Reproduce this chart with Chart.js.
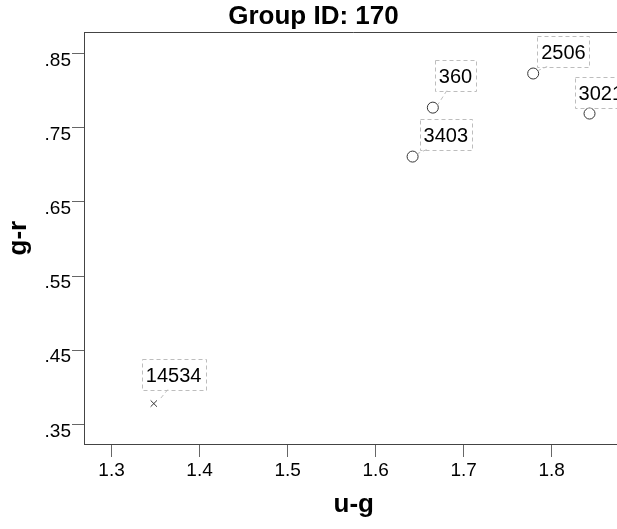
<!DOCTYPE html>
<html>
<head>
<meta charset="utf-8">
<script src="https://cdn.jsdelivr.net/npm/chart.js@4/dist/chart.umd.min.js"></script>
<style>
  html, body { margin: 0; padding: 0; overflow: hidden; background: #fff; }
  #wrap { width: 617px; height: 529px; overflow: hidden; }
</style>
</head>
<body>
<div id="wrap"><canvas id="scatterChart" width="630" height="529"></canvas></div>
<script>
// data
const ids = ['14534', '3403', '360', '2506', '3021'];
const ugValues = [1.348, 1.642, 1.665, 1.779, 1.843];
const grValues = [0.378, 0.711, 0.777, 0.823, 0.769];
const markerKind = ['x', 'o', 'o', 'o', 'o'];
const xTicks = [1.3, 1.4, 1.5, 1.6, 1.7, 1.8];
const yTicks = [0.35, 0.45, 0.55, 0.65, 0.75, 0.85];

// where each label box sits, relative to its point (box bottom-left)
const labelOffsets = [[-12, -14], [7, -7], [2, -17], [4, -7], [-15, -6]];

const FONT = "'Liberation Sans', Arial, sans-serif";

const pointLabels = {
    id: 'pointLabels',
    afterDatasetsDraw(chart) {
        const ctx = chart.ctx;
        const meta = chart.getDatasetMeta(0);
        ctx.save();
        ctx.font = '20px ' + FONT;
        meta.data.forEach((pt, i) => {
            const text = ids[i];
            const w = ctx.measureText(text).width + 8;
            const h = 31;
            const left = pt.x + labelOffsets[i][0];
            const bottom = pt.y + labelOffsets[i][1];
            const top = bottom - h;

            ctx.setLineDash([4, 3]);
            ctx.strokeStyle = '#bdbdbd';
            ctx.lineWidth = 1;
            ctx.strokeRect(Math.round(left) + 0.5, Math.round(top) + 0.5, Math.round(w), h);

            // little leader line down to the point
            const tx = Math.min(Math.max(pt.x + 14, left + 6), left + w - 6);
            if (pt.y - bottom > 6) {
                ctx.beginPath();
                ctx.moveTo(tx, bottom);
                ctx.lineTo(pt.x + 5, pt.y - 3);
                ctx.stroke();
            }
            ctx.setLineDash([]);

            ctx.fillStyle = '#000';
            ctx.textAlign = 'left';
            ctx.textBaseline = 'middle';
            ctx.fillText(text, left + 4, top + h / 2 + 2);
        });
        ctx.restore();
    }
};

const topBorder = {
    id: 'topBorder',
    afterDraw(chart) {
        const {ctx, chartArea} = chart;
        ctx.save();
        ctx.strokeStyle = '#444';
        ctx.lineWidth = 1;
        ctx.beginPath();
        ctx.moveTo(chartArea.left, Math.round(chartArea.top) + 0.5);
        ctx.lineTo(chartArea.right, Math.round(chartArea.top) + 0.5);
        ctx.stroke();
        ctx.restore();
    }
};

const scatterChart = document.getElementById('scatterChart');

new Chart(scatterChart, {
    type: 'scatter',
    data: {
        datasets: [
            {
                label: 'Group 170',
                data: ugValues.map((u, i) => ({ x: u, y: grValues[i] })),
                pointStyle: ctx => markerKind[ctx.dataIndex] === 'x' ? 'crossRot' : 'circle',
                pointRadius: ctx => markerKind[ctx.dataIndex] === 'x' ? 4.5 : 5.5,
                borderColor: '#333',
                backgroundColor: '#fff',
                borderWidth: 1
            }
        ]
    },
    plugins: [pointLabels, topBorder],
    options: {
        responsive: false,
        animation: false,
        devicePixelRatio: 1,
        layout: { padding: { top: 0, right: 3, bottom: 0, left: 0 } },
        plugins: {
            legend: { display: false },
            tooltip: { enabled: false },
            title: {
                display: true,
                text: 'Group ID: 170',
                color: '#000',
                font: { family: FONT, size: 26, weight: 'bold' },
                padding: { top: 1, bottom: 0 }
            }
        },
        scales: {
            x: {
                type: 'linear',
                min: 1.2687,
                max: 1.8816,
                afterBuildTicks: s => { s.ticks = xTicks.map(v => ({ value: v })); },
                afterFit: s => { s.height = 85; },
                ticks: {
                    color: '#000',
                    font: { family: FONT, size: 19 },
                    padding: 2,
                    maxRotation: 0,
                    callback: v => v.toFixed(1)
                },
                grid: { drawOnChartArea: false, drawTicks: true, tickLength: 13, color: '#666' },
                border: { display: true, color: '#444' },
                title: {
                    display: true,
                    text: 'u-g',
                    color: '#000',
                    font: { family: FONT, size: 26, weight: 'bold' },
                    padding: { top: 0, bottom: 9 }
                }
            },
            y: {
                type: 'linear',
                min: 0.3235,
                max: 0.8787,
                afterBuildTicks: s => { s.ticks = yTicks.map(v => ({ value: v })); },
                afterFit: s => { s.width = 84; },
                ticks: {
                    color: '#000',
                    font: { family: FONT, size: 19 },
                    padding: 1,
                    labelOffset: 7,
                    callback: v => v.toFixed(2).replace(/^0/, '')
                },
                grid: { drawOnChartArea: false, drawTicks: true, tickLength: 12, color: '#666' },
                border: { display: true, color: '#444' },
                title: {
                    display: true,
                    text: 'g-r',
                    color: '#000',
                    font: { family: FONT, size: 26, weight: 'bold' },
                    padding: { top: 3, bottom: 0 }
                }
            }
        }
    }
});
</script>
</body>
</html>
